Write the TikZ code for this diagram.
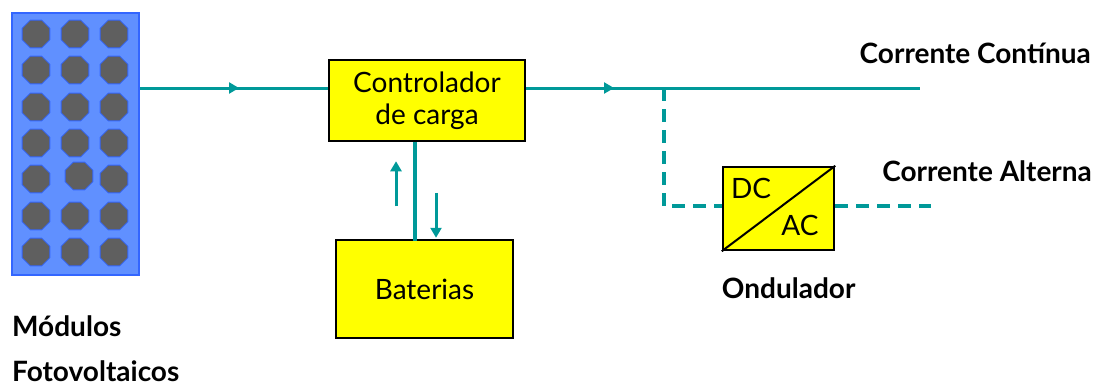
\documentclass[tikz,border=0pt]{standalone}
\usepackage{fontspec}
\setmainfont{Lato}
\definecolor{wireteal}{RGB}{0, 153, 153}
\definecolor{panelblue}{RGB}{96, 144, 255}
\definecolor{paneledge}{RGB}{51, 102, 255}
\definecolor{cellgrey}{RGB}{95, 95, 95}
\definecolor{boxyellow}{RGB}{255, 255, 0}
\usetikzlibrary{shapes.geometric, arrows.meta, positioning, calc}
\tikzset{
  yellowbox/.style={draw=black, fill=boxyellow, line width=2.5pt, align=center, inner sep=0pt},
  wire/.style={draw=wireteal, line width=3pt},
  dashwire/.style={wire, line width=3.6pt, dash pattern=on 13pt off 8pt},
  flowtip/.style={-{Triangle[length=10pt,width=11pt]}},
  boxtext/.style={font=\fontsize{28}{32}\selectfont},
  outertext/.style={font=\fontsize{28}{30}\selectfont\bfseries, inner sep=0pt},
  cell/.style={regular polygon, regular polygon sides=8,
    draw=paneledge, fill=cellgrey, line width=0.8pt, minimum size=30pt, inner sep=0pt},
}

\begin{document}
\begin{tikzpicture}[x=1pt, y=-1pt]
  \useasboundingbox (0,0) rectangle (1099,388);

  % modules
  \node[draw=paneledge, fill=panelblue, line width=1.5pt, minimum width=127pt,
        minimum height=262pt, inner sep=0pt] (solar) at (75.5,144) {};
  \foreach \row/\ypos in {1/34, 2/70, 3/107, 4/143, 6/216, 7/252} {
    \foreach \col/\xpos in {1/36, 2/75, 3/114} {
      \node[cell] (cell\row\col) at (\xpos,\ypos) {};
    }
  }
  \node[cell] (cell51) at (36,179) {};
  \node[cell] (cell52) at (79,176) {};
  \node[cell] (cell53) at (114,179) {};
  \node[outertext, anchor=west] (modlabel) at (12,326) {Módulos};
  \node[outertext, anchor=west] (fotolabel) at (12,371) {Fotovoltaicos};

  % boxes
  \node[yellowbox, boxtext, minimum width=196pt, minimum height=81pt] (ctrl) at (427,100.5)
    {Controlador\\de carga};
  \node[yellowbox, boxtext, minimum width=177pt, minimum height=98pt] (batt) at (424.5,289)
    {Baterias};
  \node[yellowbox, minimum width=111pt, minimum height=83pt] (inv) at (778.5,208.5) {};
  \draw[line width=2pt] (inv.south west) -- (inv.north east);
  \node[boxtext] (dclabel) at (751,188) {DC};
  \node[boxtext] (aclabel) at (800,225) {AC};
  \node[outertext, below=26pt of inv.south west, anchor=north west] (invlabel) {Ondulador};

  \coordinate (busy) at (0,88);
  \coordinate (tipa) at (239,88);
  \coordinate (tipb) at (614,88);
  \coordinate (tee) at (664,88);
  \coordinate (busend) at (920,88);
  \coordinate (acy) at (0,206);
  \coordinate (acend) at (931,206);

  % wires
  \draw[wire] (solar.east |- busy) -- (ctrl.west |- busy);
  \draw[wire, flowtip] ($(tipa)+(-20,0)$) -- (tipa);
  \draw[wire] (ctrl.east |- busy) -- (busend);
  \draw[wire, flowtip] ($(tipb)+(-20,0)$) -- (tipb);
  \draw[dashwire] (tee) -- (tee |- acy) -- (inv.west |- acy);
  \draw[dashwire] (inv.east |- acy) -- (acend);
  \draw[wire, line width=4pt] ($(ctrl.south)+(-12,0)$) -- ($(ctrl.south)+(-12,99)$);
  \draw[wire, flowtip] ($(ctrl.south)+(-31,64)$) -- ($(ctrl.south)+(-31,19)$);
  \draw[wire, flowtip] ($(batt.north)+(11.5,-46)$) -- ($(batt.north)+(11.5,-1)$);

  \node[outertext, anchor=east] (dctext) at (1091,53) {Corrente Contínua};
  \node[outertext, anchor=east] (actext) at (1092,171) {Corrente Alterna};
\end{tikzpicture}
\end{document}
